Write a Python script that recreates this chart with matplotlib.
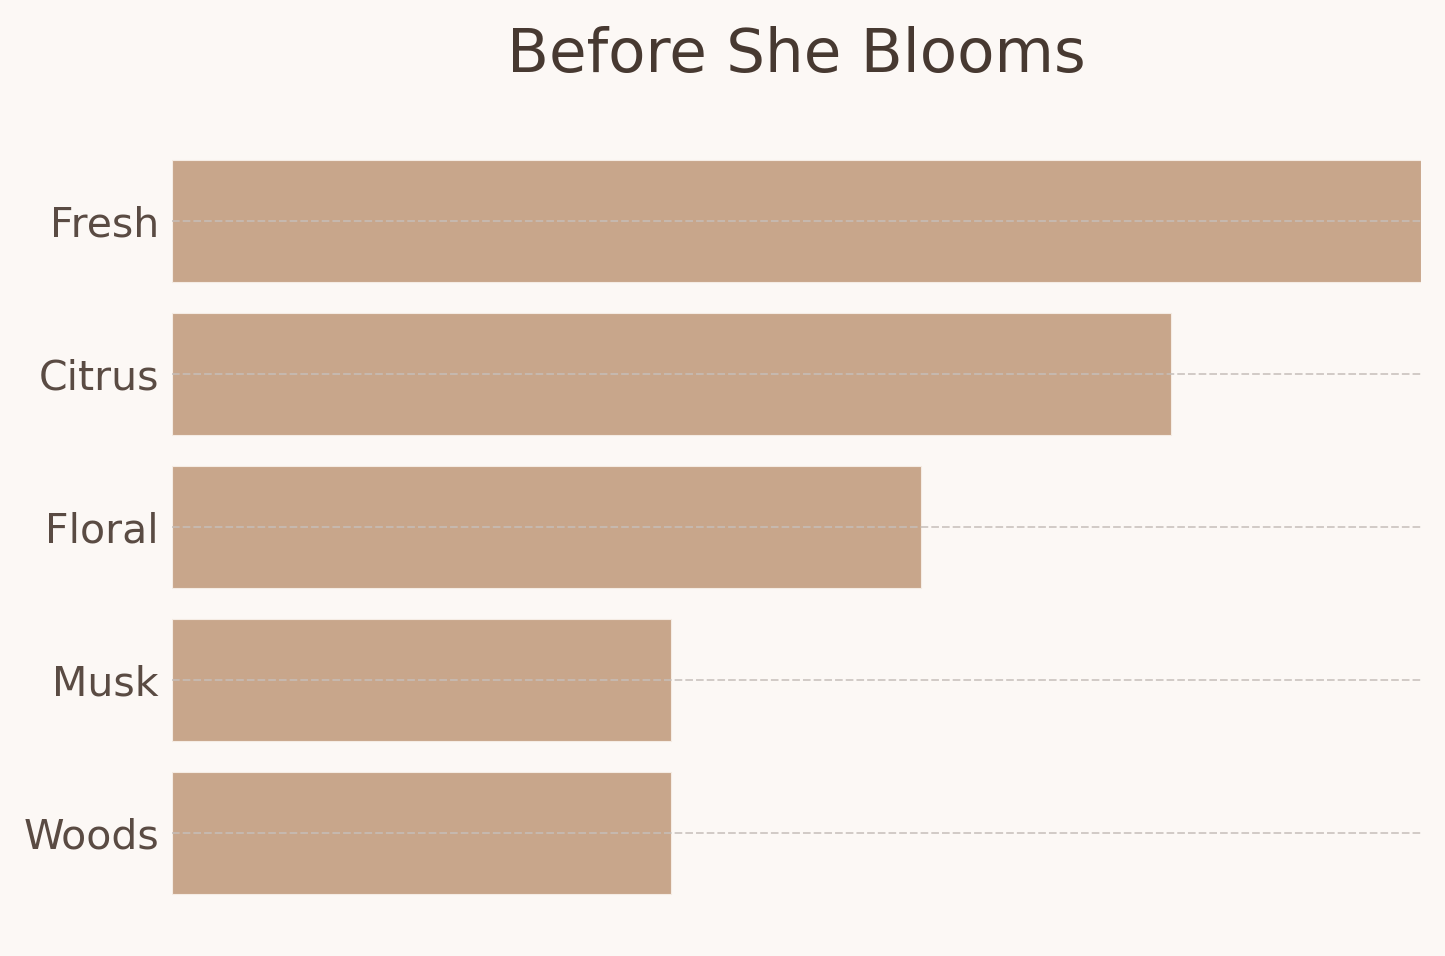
import matplotlib
matplotlib.use("Agg")
import matplotlib.pyplot as plt

categories = ["Fresh", "Citrus", "Floral", "Musk", "Woods"]
values = [5, 4, 3, 2, 2]

bg = "#FCF8F5"
bar_color = "#C8A68B"
text_color = "#5A4B43"
title_color = "#473931"
grid_color = "#C6BEB9"

fig = plt.figure(figsize=(14.45, 9.56), dpi=100, facecolor=bg)
ax = fig.add_axes([171.5/1445, 1 - 931/956, (1421-171.5)/1445, (931-123)/956])
ax.set_facecolor(bg)

ypos = list(range(len(categories)))[::-1]
ax.barh(ypos, values, height=0.8, color=bar_color, edgecolor="#F5ECE4", linewidth=0.8, zorder=1)
ax.set_yticks(ypos)
ax.set_yticklabels(categories)
ax.set_xlim(0, max(values))
ax.set_xticks([])
ax.tick_params(axis="y", length=0, pad=9, labelsize=29.5, labelcolor=text_color)
for s in ax.spines.values():
    s.set_visible(False)
ax.grid(axis="y", linestyle=(0, (5, 2)), color=grid_color, linewidth=1.1, zorder=3)
ax.set_axisbelow(False)
ax.set_title("Before She Blooms", fontsize=44, color=title_color, pad=37)

fig.savefig("out.png", dpi=100, facecolor=bg)
